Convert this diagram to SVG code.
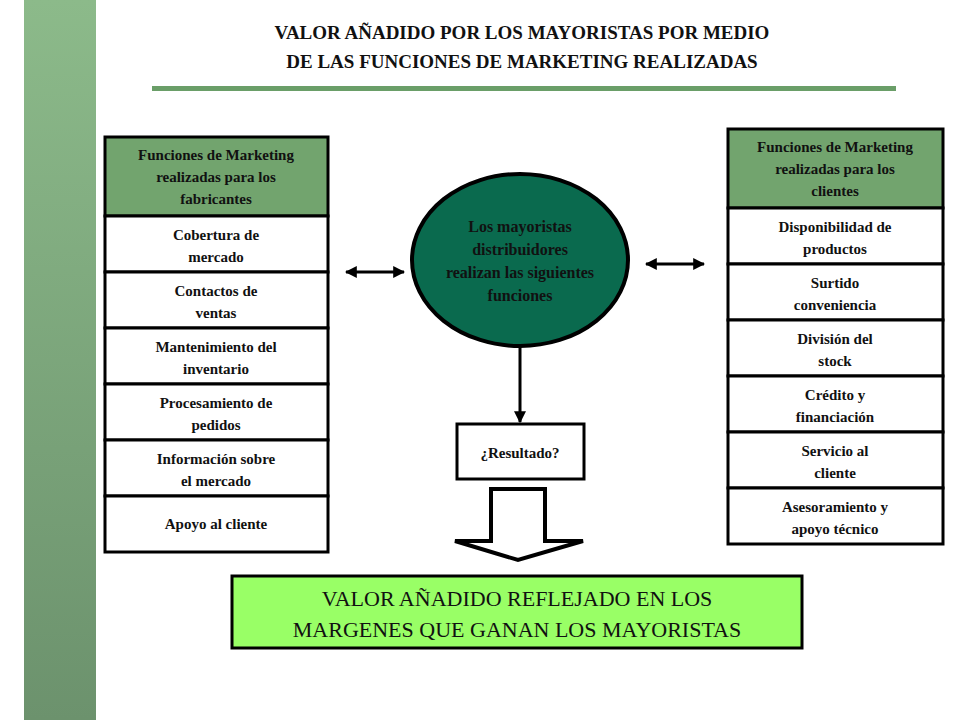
<svg xmlns="http://www.w3.org/2000/svg" width="960" height="720" viewBox="0 0 960 720">
<style>
text{font-family:"Liberation Serif",serif;font-weight:bold;text-anchor:middle;fill:#111}
.t{font-size:15px}
.box{fill:#fff;stroke:#000;stroke-width:3}
.hd{fill:#72a46e;stroke:#000;stroke-width:3}
.ln{stroke:#000;stroke-width:3;fill:none}
</style>
<defs>
<linearGradient id="sb" x1="0" y1="0" x2="0" y2="1"><stop offset="0" stop-color="#8cba8a"/><stop offset="1" stop-color="#6c926d"/></linearGradient>
<marker id="ah" viewBox="0 0 10 10" refX="9" refY="5" markerWidth="4" markerHeight="4" orient="auto-start-reverse"><path d="M0,0L10,5L0,10z" fill="#000"/></marker>
</defs>
<rect width="960" height="720" fill="#fff"/>
<rect x="24" y="0" width="72" height="720" fill="url(#sb)"/>
<text x="522" y="39" style="font-size:19px">VALOR AÑADIDO POR LOS MAYORISTAS POR MEDIO</text>
<text x="522" y="68" style="font-size:19px">DE LAS FUNCIONES DE MARKETING REALIZADAS</text>
<rect x="152" y="86" width="744" height="5" fill="#6a9e68"/>
<g id="left">
<rect class="hd" x="105" y="137" width="223" height="79"/>
<text class="t" x="216" y="160">Funciones de Marketing</text><text class="t" x="216" y="182">realizadas para los</text><text class="t" x="216" y="204">fabricantes</text>
<rect class="box" x="105" y="216" width="223" height="56"/><text class="t" x="216" y="240">Cobertura de</text><text class="t" x="216" y="262">mercado</text>
<rect class="box" x="105" y="272" width="223" height="56"/><text class="t" x="216" y="296">Contactos de</text><text class="t" x="216" y="318">ventas</text>
<rect class="box" x="105" y="328" width="223" height="56"/><text class="t" x="216" y="352">Mantenimiento del</text><text class="t" x="216" y="374">inventario</text>
<rect class="box" x="105" y="384" width="223" height="56"/><text class="t" x="216" y="408">Procesamiento de</text><text class="t" x="216" y="430">pedidos</text>
<rect class="box" x="105" y="440" width="223" height="56"/><text class="t" x="216" y="464">Información sobre</text><text class="t" x="216" y="486">el mercado</text>
<rect class="box" x="105" y="496" width="223" height="56"/><text class="t" x="216" y="529">Apoyo al cliente</text>
</g>
<g id="right">
<rect class="hd" x="728" y="129" width="215" height="79"/>
<text class="t" x="835" y="152">Funciones de Marketing</text><text class="t" x="835" y="174">realizadas para los</text><text class="t" x="835" y="196">clientes</text>
<rect class="box" x="728" y="208" width="215" height="56"/><text class="t" x="835" y="232">Disponibilidad de</text><text class="t" x="835" y="254">productos</text>
<rect class="box" x="728" y="264" width="215" height="56"/><text class="t" x="835" y="288">Surtido</text><text class="t" x="835" y="310">conveniencia</text>
<rect class="box" x="728" y="320" width="215" height="56"/><text class="t" x="835" y="344">División del</text><text class="t" x="835" y="366">stock</text>
<rect class="box" x="728" y="376" width="215" height="56"/><text class="t" x="835" y="400">Crédito y</text><text class="t" x="835" y="422">financiación</text>
<rect class="box" x="728" y="432" width="215" height="56"/><text class="t" x="835" y="456">Servicio al</text><text class="t" x="835" y="478">cliente</text>
<rect class="box" x="728" y="488" width="215" height="56"/><text class="t" x="835" y="512">Asesoramiento y</text><text class="t" x="835" y="534">apoyo técnico</text>
</g>
<g id="center">
<ellipse cx="520" cy="260" rx="108" ry="86" fill="#0a6a4e" stroke="#000" stroke-width="4"/>
<text x="520" y="232" style="font-size:16px">Los mayoristas</text>
<text x="520" y="255" style="font-size:16px">distribuidores</text>
<text x="520" y="278" style="font-size:16px">realizan las siguientes</text>
<text x="520" y="301" style="font-size:16px">funciones</text>
</g>
<g id="result"><rect class="box" x="457" y="424" width="127" height="55"/><text class="t" x="520" y="458">¿Resultado?</text></g>
<g id="bottom"><rect x="232" y="576" width="570" height="72" fill="#99ff66" stroke="#000" stroke-width="3"/>
<text x="517" y="606" style="font-size:22px;font-weight:normal">VALOR AÑADIDO REFLEJADO EN LOS</text>
<text x="517" y="637" style="font-size:22px;font-weight:normal">MARGENES QUE GANAN LOS MAYORISTAS</text></g>
<g id="connectors">
<line class="ln" x1="346" y1="272" x2="404" y2="272" marker-start="url(#ah)" marker-end="url(#ah)"/>
<line class="ln" x1="646" y1="264" x2="704" y2="264" marker-start="url(#ah)" marker-end="url(#ah)"/>
<line class="ln" x1="520" y1="346" x2="520" y2="422" marker-end="url(#ah)"/>
<path d="M491,489H545V541H583L518,560L455,541H491Z" fill="#fff" stroke="#000" stroke-width="4"/>
</g>
</svg>
